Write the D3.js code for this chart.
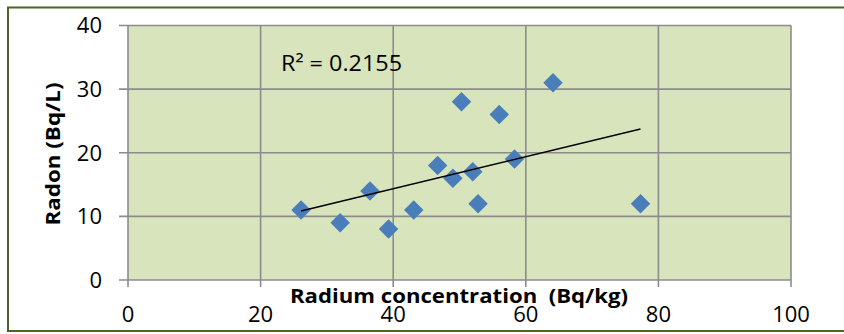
<!DOCTYPE html>
<html>
<head>
<meta charset="utf-8">
<script src="https://cdn.jsdelivr.net/npm/d3@7"></script>
<style>
  html, body { margin: 0; padding: 0; background: #ffffff; }
  svg { display: block; }
  text { font-family: "Open Sans", "Liberation Sans", sans-serif; fill: #000; }
</style>
</head>
<body>
<svg id="chart" width="844" height="334"></svg>
<script>
// ---- Data ----
const radium = [26.1, 32.0, 36.5, 39.3, 43.1, 46.7, 49.0, 50.3, 52.0, 52.8, 56.0, 58.3, 64.1, 77.3];
const radon  = [11,   9,    14,   8,    11,   18,   16,   28,   17,   12,   26,   19,   31,   12];
const xTicks = [0, 20, 40, 60, 80, 100];
const yTicks = [0, 10, 20, 30, 40];
const xTitle = "Radium concentration  (Bq/kg)";
const yTitle = "Radon (Bq/L)";
const r2Label = "R\u00B2 = 0.2155";

const svg = d3.select("#chart");

// outer chart border (olive)
svg.append("rect")
  .attr("x", 8).attr("y", 7.5)
  .attr("width", 850).attr("height", 323.5)
  .attr("fill", "#ffffff")
  .attr("stroke", "#4f6228").attr("stroke-width", 2);

const x = d3.scaleLinear().domain([0, 100]).range([128, 791]);
const y = d3.scaleLinear().domain([0, 40]).range([280, 25.5]);

// plot area background
svg.append("rect")
  .attr("x", x(0)).attr("y", y(40))
  .attr("width", x(100) - x(0)).attr("height", y(0) - y(40))
  .attr("fill", "#d8e4bc");

const gridColor = "#8c8c8c";

// vertical gridlines (with tick marks below)
svg.append("g").selectAll("line")
  .data(xTicks).join("line")
  .attr("x1", d => x(d)).attr("x2", d => x(d))
  .attr("y1", y(40)).attr("y2", y(0) + 7)
  .attr("stroke", gridColor).attr("stroke-width", 1.6);

// horizontal gridlines (with tick marks left)
svg.append("g").selectAll("line")
  .data(yTicks).join("line")
  .attr("x1", x(0) - 9).attr("x2", x(100))
  .attr("y1", d => y(d)).attr("y2", d => y(d))
  .attr("stroke", gridColor).attr("stroke-width", 1.6);

// y tick labels
svg.append("g").selectAll("text")
  .data(yTicks).join("text")
  .attr("x", 102).attr("y", d => y(d))
  .attr("dy", "0.36em")
  .attr("text-anchor", "end")
  .attr("font-size", 22)
  .text(d => d);

// x tick labels
svg.append("g").selectAll("text")
  .data(xTicks).join("text")
  .attr("x", d => x(d)).attr("y", 322)
  .attr("text-anchor", "middle")
  .attr("font-size", 22)
  .text(d => d);

// trendline (least-squares fit from the data)
const mx = d3.mean(radium), my = d3.mean(radon);
let sxy = 0, sxx = 0;
radium.forEach((v, i) => { sxy += (v - mx) * (radon[i] - my); sxx += (v - mx) ** 2; });
const slope = sxy / sxx, intercept = my - slope * mx;
const [xmin, xmax] = d3.extent(radium);

// points
const pts = radium.map((v, i) => ({ x: v, y: radon[i] }));
svg.append("g").selectAll("path")
  .data(pts).join("path")
  .attr("d", d3.symbol(d3.symbolSquare, 190))
  .attr("transform", d => `translate(${x(d.x)},${y(d.y)}) rotate(45)`)
  .attr("fill", "#4a7ebb");

svg.append("line")
  .attr("x1", x(xmin)).attr("y1", y(intercept + slope * xmin))
  .attr("x2", x(xmax)).attr("y2", y(intercept + slope * xmax))
  .attr("stroke", "#000").attr("stroke-width", 1.5);

// R² label
svg.append("text")
  .attr("x", 281).attr("y", 71)
  .attr("font-size", 22)
  .attr("textLength", 121)
  .attr("lengthAdjust", "spacingAndGlyphs")
  .text(r2Label);

// axis titles
svg.append("text")
  .attr("x", 459).attr("y", 303)
  .attr("text-anchor", "middle")
  .attr("font-size", 20)
  .attr("font-weight", "bold")
  .attr("textLength", 338)
  .attr("lengthAdjust", "spacingAndGlyphs")
  .style("white-space", "pre")
  .text(xTitle);

svg.append("text")
  .attr("transform", "translate(60,154) rotate(-90)")
  .attr("text-anchor", "middle")
  .attr("font-size", 20)
  .attr("font-weight", "bold")
  .attr("textLength", 143)
  .attr("lengthAdjust", "spacingAndGlyphs")
  .text(yTitle);
</script>
</body>
</html>
